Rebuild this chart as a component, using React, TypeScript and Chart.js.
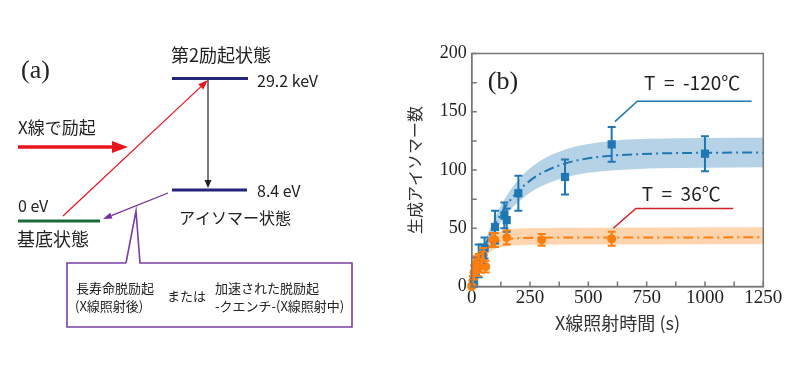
import React, { useEffect, useRef } from "react";
import { Chart, registerables } from "chart.js";

Chart.register(...registerables);

// ---- data ----
const xTickValues = [0, 250, 500, 750, 1000, 1250];
const yTickValues = [0, 50, 100, 150, 200];

// T = -120℃ measured points
const coldTime = [10, 30, 45, 55, 100, 140, 150, 200, 400, 600, 1000];
const coldCount = [3, 22, 28, 33, 51, 61, 57, 80, 94, 122, 114];
const coldErr = [4, 14, 8, 9, 14, 11, 10, 15, 15, 15, 15];

// T = 36℃ measured points
const warmTime = [0, 5, 10, 15, 20, 25, 30, 40, 45, 50, 60, 90, 100, 150, 300, 600];
const warmCount = [0, 5, 12, 18, 20, 15, 22, 18, 24, 27, 17, 40, 40, 42, 40, 41];
const warmErr = [2, 4, 6, 6, 6, 6, 6, 6, 6, 6, 5, 6, 6, 6, 5, 6];

// fitted curves and confidence bands
const coldFitTime = [0, 25, 50, 75, 100, 150, 200, 250, 300, 400, 500, 600, 700, 800, 1000, 1250];
const coldFit = [0, 16.6, 30.8, 43, 53.4, 70, 82, 90.9, 97.4, 105.6, 110, 112.3, 113.5, 114.2, 114.8, 115];
const coldUpper = [0, 18.6, 34.4, 48, 59.6, 78, 91.5, 101.4, 108.6, 117.6, 122.4, 125, 126.3, 127, 127.5, 127.7];
const coldLower = [0, 14.6, 27.2, 38, 47.2, 62, 72.5, 80.4, 86.2, 93.6, 97.6, 99.6, 100.7, 101.4, 102, 102.3];

const warmFitTime = [0, 10, 25, 50, 75, 100, 150, 200, 300, 500, 800, 1250];
const warmFit = [0, 8.4, 17.9, 28.2, 34.1, 37.5, 40.5, 41.5, 41.9, 42, 42.1, 42.2];
const warmUpper = [0, 10.1, 21.5, 33.8, 40.9, 45, 48.6, 49.8, 50.3, 50.5, 50.7, 50.9];
const warmLower = [0, 7.2, 15.3, 24.1, 29.2, 32.1, 34.6, 35.5, 35.8, 36, 36.1, 36.2];

// callout leader lines (data coordinates)
const coldCalloutX = [614, 710, 1200];
const coldCalloutY = [141.5, 159, 159];
const warmCalloutX = [607, 704, 1121];
const warmCalloutY = [50, 67, 67];

const BLUE = "#1f77b4";
const ORANGE = "#ff7f0e";
const RED = "#d4202c";
const SANS = '"Noto Sans CJK JP", "Noto Sans", sans-serif';
const SERIF = '"Liberation Serif", "DejaVu Serif", serif';

const zip = (xs: number[], ys: number[]) => xs.map((x, i) => ({ x, y: ys[i] }));

function arrow(
  ctx: CanvasRenderingContext2D,
  x1: number, y1: number, x2: number, y2: number,
  color: string, width: number, headLen: number, headW: number
) {
  const a = Math.atan2(y2 - y1, x2 - x1);
  const bx = x2 - headLen * Math.cos(a);
  const by = y2 - headLen * Math.sin(a);
  ctx.save();
  ctx.strokeStyle = color;
  ctx.fillStyle = color;
  ctx.lineWidth = width;
  ctx.beginPath();
  ctx.moveTo(x1, y1);
  ctx.lineTo(bx, by);
  ctx.stroke();
  ctx.beginPath();
  ctx.moveTo(x2, y2);
  ctx.lineTo(bx + (headW / 2) * Math.sin(a), by - (headW / 2) * Math.cos(a));
  ctx.lineTo(bx - (headW / 2) * Math.sin(a), by + (headW / 2) * Math.cos(a));
  ctx.closePath();
  ctx.fill();
  ctx.restore();
}

function text(ctx: CanvasRenderingContext2D, s: string, x: number, y: number, font: string, color = "#222", align: CanvasTextAlign = "left") {
  ctx.save();
  ctx.font = font;
  ctx.fillStyle = color;
  ctx.textAlign = align;
  ctx.textBaseline = "middle";
  ctx.fillText(s, x, y);
  ctx.restore();
}

const diagramPlugin = {
  id: "diagram",
  afterDraw(chart: any) {
    const ctx: CanvasRenderingContext2D = chart.ctx;
    ctx.save();
    // (a)
    text(ctx, "(a)", 21, 71, `26px ${SERIF}`);
    // levels
    ctx.lineWidth = 3;
    ctx.strokeStyle = "#24247a";
    ctx.beginPath();
    ctx.moveTo(172, 78.5); ctx.lineTo(248, 78.5);
    ctx.moveTo(172, 190); ctx.lineTo(247, 190);
    ctx.stroke();
    ctx.strokeStyle = "#1d6b3b";
    ctx.beginPath();
    ctx.moveTo(18, 221); ctx.lineTo(100, 221);
    ctx.stroke();
    // labels
    text(ctx, "第2励起状態", 171, 55, `18px ${SANS}`);
    text(ctx, "29.2 keV", 257, 81, `16px ${SANS}`);
    text(ctx, "8.4 eV", 257, 191, `16px ${SANS}`);
    text(ctx, "アイソマー状態", 179, 218, `16px ${SANS}`);
    text(ctx, "0 eV", 18, 206, `16px ${SANS}`);
    text(ctx, "基底状態", 17, 239, `18px ${SANS}`);
    text(ctx, "X線で励起", 18, 128, `17px ${SANS}`);
    // arrows
    arrow(ctx, 208, 80, 208, 188, "#222", 1.2, 8, 7);
    arrow(ctx, 63, 216, 208, 80, "#e8151d", 1.2, 10, 7);
    arrow(ctx, 18, 147, 128, 147, "#e8151d", 3.5, 16, 12);
    arrow(ctx, 168, 193, 103, 219, "#7030a0", 1.2, 9, 6);
    // callout box
    ctx.strokeStyle = "#7b3fa6";
    ctx.lineWidth = 1.6;
    ctx.beginPath();
    ctx.moveTo(126, 263);
    ctx.lineTo(67, 263);
    ctx.lineTo(67, 327);
    ctx.lineTo(352, 327);
    ctx.lineTo(352, 263);
    ctx.lineTo(140, 263);
    ctx.lineTo(136, 211);
    ctx.lineTo(126, 263);
    ctx.stroke();
    const bf = `13px ${SANS}`;
    text(ctx, "長寿命脱励起", 76, 288, bf);
    text(ctx, "(X線照射後)", 75, 306, bf);
    text(ctx, "または", 167, 296, bf);
    text(ctx, "加速された脱励起", 215, 288, bf);
    text(ctx, "-クエンチ-(X線照射中)", 215, 306, bf);
    ctx.restore();
  },
};

const axesPlugin = {
  id: "axesExtras",
  afterDatasetsDraw(chart: any) {
    const ctx: CanvasRenderingContext2D = chart.ctx;
    const xs = chart.scales.x;
    const ys = chart.scales.y;
    const { left, right, top, bottom } = chart.chartArea;
    ctx.save();
    // error bars
    const drawErr = (t: number[], n: number[], e: number[], color: string) => {
      ctx.strokeStyle = color;
      ctx.lineWidth = 2;
      t.forEach((tv, i) => {
        const px = xs.getPixelForValue(tv);
        const y1 = ys.getPixelForValue(n[i] + e[i]);
        const y2 = ys.getPixelForValue(Math.max(0, n[i] - e[i]));
        ctx.beginPath();
        ctx.moveTo(px, y1); ctx.lineTo(px, y2);
        ctx.moveTo(px - 4, y1); ctx.lineTo(px + 4, y1);
        ctx.moveTo(px - 4, y2); ctx.lineTo(px + 4, y2);
        ctx.stroke();
      });
    };
    drawErr(coldTime, coldCount, coldErr, BLUE);
    drawErr(warmTime, warmCount, warmErr, ORANGE);

    // frame
    ctx.strokeStyle = "#777";
    ctx.lineWidth = 1.5;
    ctx.strokeRect(left, top, right - left, bottom - top);
    // inner ticks
    ctx.beginPath();
    for (let v = 0; v <= 200; v += 25) {
      const py = ys.getPixelForValue(v);
      ctx.moveTo(left, py); ctx.lineTo(left + 5, py);
    }
    for (let v = 0; v <= 1250; v += 125) {
      const px = xs.getPixelForValue(v);
      ctx.moveTo(px, bottom); ctx.lineTo(px, bottom - 5);
    }
    ctx.stroke();

    // labels in the plot
    text(ctx, "(b)", xs.getPixelForValue(134), ys.getPixelForValue(175.5), `26px ${SERIF}`, "#222", "center");
    text(ctx, "T  =  -120℃", xs.getPixelForValue(945), ys.getPixelForValue(174.5), `19px ${SANS}`, "#222", "center");
    text(ctx, "T  =  36℃", xs.getPixelForValue(898), ys.getPixelForValue(80), `19px ${SANS}`, "#222", "center");
    ctx.restore();
  },
};

export default function App() {
  const ref = useRef<HTMLCanvasElement | null>(null);

  useEffect(() => {
    document.body.style.margin = "0";
    const canvas = ref.current;
    if (!canvas) return;

    const fitLine = (xsArr: number[], ysArr: number[], color: string) => ({
      data: zip(xsArr, ysArr),
      borderColor: color,
      borderWidth: 2,
      borderDash: [10, 4, 2, 4],
      pointRadius: 0,
      fill: false,
      cubicInterpolationMode: "monotone" as const,
      order: 3,
    });
    const band = (xsArr: number[], ysArr: number[], fillColor: string, fill: any) => ({
      data: zip(xsArr, ysArr),
      borderWidth: 0,
      borderColor: "rgba(0,0,0,0)",
      backgroundColor: fillColor,
      pointRadius: 0,
      fill,
      cubicInterpolationMode: "monotone" as const,
      order: 5,
    });

    const chart = new Chart(canvas, {
      type: "line",
      data: {
        datasets: [
          band(coldFitTime, coldLower, "rgba(0,0,0,0)", false),
          band(coldFitTime, coldUpper, "rgba(31,119,180,0.33)", "-1"),
          band(warmFitTime, warmLower, "rgba(0,0,0,0)", false),
          band(warmFitTime, warmUpper, "rgba(255,127,14,0.33)", "-1"),
          fitLine(coldFitTime, coldFit, BLUE),
          fitLine(warmFitTime, warmFit, ORANGE),
          {
            data: zip(coldCalloutX, coldCalloutY),
            borderColor: BLUE,
            borderWidth: 1.5,
            pointRadius: 0,
            fill: false,
            order: 2,
          },
          {
            data: zip(warmCalloutX, warmCalloutY),
            borderColor: RED,
            borderWidth: 1.5,
            pointRadius: 0,
            fill: false,
            order: 2,
          },
          {
            data: zip(warmTime, warmCount),
            showLine: false,
            pointStyle: "circle",
            pointRadius: 4.5,
            backgroundColor: ORANGE,
            borderColor: ORANGE,
            borderWidth: 0,
            clip: false as any,
            order: 1,
          },
          {
            data: zip(coldTime, coldCount),
            showLine: false,
            pointStyle: "rect",
            pointRadius: 5.8,
            backgroundColor: BLUE,
            borderColor: BLUE,
            borderWidth: 0,
            clip: false as any,
            order: 0,
          },
        ] as any,
      },
      options: {
        responsive: false,
        animation: false,
        devicePixelRatio: 1,
        layout: { padding: { left: 400, right: 36.7, top: 53.5, bottom: 0 } },
        plugins: { legend: { display: false }, tooltip: { enabled: false } },
        scales: {
          x: {
            type: "linear",
            min: 0,
            max: 1250,
            afterBuildTicks: (s: any) => {
              s.ticks = xTickValues.map((v) => ({ value: v }));
            },
            afterFit: (s: any) => {
              s.height = 85.5;
            },
            grid: { display: false, drawTicks: false },
            border: { display: true, color: "#777", width: 1.5 },
            ticks: {
              font: { family: SERIF, size: 19 },
              color: "#222",
              padding: 0,
              maxRotation: 0,
              callback: (v: any) => String(v),
            },
            title: {
              display: true,
              text: "X線照射時間 (s)",
              font: { family: SANS, size: 18 },
              color: "#333",
              padding: { top: 0, bottom: 38.2 },
            },
          },
          y: {
            type: "linear",
            min: 0,
            max: 200,
            afterBuildTicks: (s: any) => {
              s.ticks = yTickValues.map((v) => ({ value: v }));
            },
            afterFit: (s: any) => {
              s.width = 71.7;
            },
            grid: { display: false, drawTicks: false },
            border: { display: true, color: "#777", width: 1.5 },
            ticks: {
              font: { family: SERIF, size: 18 },
              color: "#222",
              padding: 5,
              callback: (v: any) => String(v),
            },
            title: {
              display: true,
              text: "生成アイソマー数",
              font: { family: SANS, size: 16 },
              color: "#333",
              padding: { top: 5, bottom: 0 },
            },
          },
        },
      } as any,
      plugins: [axesPlugin, diagramPlugin],
    });
    return () => chart.destroy();
  }, []);

  return (
    <canvas
      ref={ref}
      width={800}
      height={372}
      style={{ display: "block", width: 800, height: 372 }}
    />
  );
}
